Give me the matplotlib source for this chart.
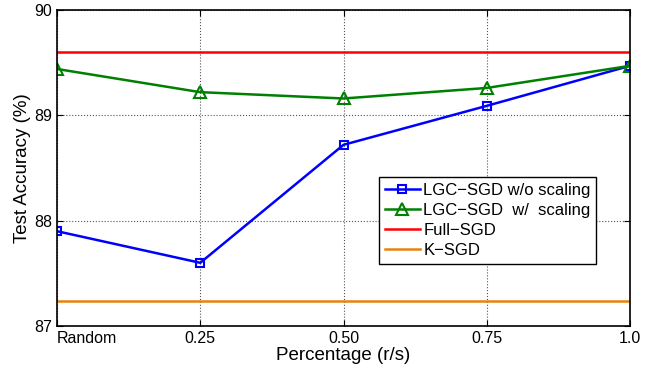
import matplotlib
matplotlib.use('Agg')
import matplotlib.pyplot as plt
import numpy as np

plt.rcParams['font.family'] = ['Liberation Sans', 'DejaVu Sans']

# percentage of local gradients used
labels = ['Random', '0.25', '0.50', '0.75', '1.0']
wo_scaling = [87.90, 87.60, 88.72, 89.09, 89.47]
w_scaling = [89.44, 89.22, 89.16, 89.26, 89.47]
full_sgd = 89.60
k_sgd = 87.24

x = np.arange(len(labels))

fig = plt.figure(figsize=(6.57, 3.73), dpi=100)
ax = fig.add_axes([57/657, 47/373, 573/657, 316/373])

ax.plot(x, wo_scaling, 'b-', marker='s', mfc='none', mec='b', ms=6, mew=1.5, lw=1.8,
        label='LGC\u2212SGD w/o scaling')
ax.plot(x, w_scaling, '-', color='#008000', marker='^', mfc='none', mec='#008000', ms=8, mew=1.5, lw=1.8,
        label='LGC\u2212SGD  w/  scaling')
ax.axhline(full_sgd, color='r', lw=1.8, label='Full\u2212SGD')
ax.axhline(k_sgd, color='#e6820e', lw=1.8, label='K\u2212SGD')

ax.set_xlim(0, 4)
ax.set_ylim(87, 90)
ax.set_xticks(x)
ax.set_xticklabels(labels)
ax.set_yticks([87, 88, 89, 90])
ax.tick_params(direction='in', labelsize=11.5, length=4, top=True, right=True)
ax.get_xticklabels()[0].set_ha('left')
ax.grid(True, linestyle=':', color='#555555', lw=0.8)
for s in ax.spines.values():
    s.set_linewidth(1.2)

ax.set_xlabel('Percentage (r/s)', fontsize=13.5, labelpad=1)
ax.set_ylabel('Test Accuracy (%)', fontsize=13.5, labelpad=2)

leg = ax.legend(loc='lower left', bbox_to_anchor=(0.562, 0.196), borderaxespad=0, fontsize=12,
                fancybox=False, edgecolor='black', framealpha=1,
                handlelength=2.1, borderpad=0.35, labelspacing=0.3, handletextpad=0.2)
leg.get_frame().set_linewidth(1.0)

fig.savefig('out.png', dpi=100)
